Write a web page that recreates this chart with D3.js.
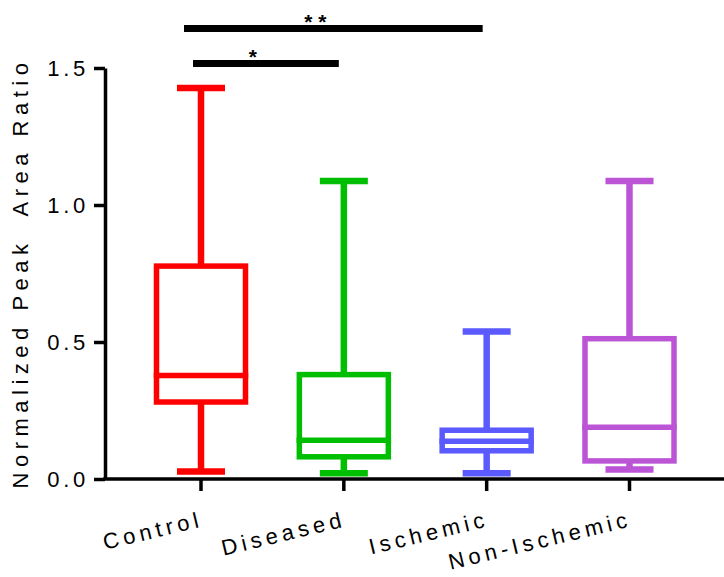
<!DOCTYPE html>
<html>
<head>
<meta charset="utf-8">
<script src="https://cdn.jsdelivr.net/npm/d3@7"></script>
<style>
  html, body { margin: 0; padding: 0; background: #fff; }
  svg { display: block; font-family: "Liberation Sans", Arial, sans-serif; }
</style>
</head>
<body>
<svg id="chart" width="724" height="577"></svg>
<script>
// Groups and their box-plot summaries (min, Q1, median, Q3, max)
const categories = ["Control", "Diseased", "Ischemic", "Non-Ischemic"];
const colors     = ["#ff0000", "#00be00", "#5a5aff", "#bb55d6"];
const mins       = [0.027, 0.021, 0.021, 0.035];
const q1s        = [0.281, 0.081, 0.103, 0.066];
const medians    = [0.378, 0.141, 0.138, 0.189];
const q3s        = [0.777, 0.381, 0.178, 0.512];
const maxs       = [1.427, 1.088, 0.538, 1.088];

const yTicks     = [0, 0.5, 1.0, 1.5];
const yTitle     = "Normalized Peak  Area Ratio";

// Significance brackets between groups
const bracketFrom   = [0, 0];
const bracketTo     = [2, 1];
const bracketLevel  = [1.644, 1.516];
const bracketLabel  = ["* *", "*"];

const svg = d3.select("#chart");

const y = d3.scaleLinear().domain([0, 1.5]).range([479, 68]);
const x = d3.scalePoint().domain(categories).range([201, 629.5]);

const axisX0 = 105, axisRight = 724, baseY = y(0);
const boxW = 89, capW = 48, sw = 5.5;

// Y axis
const gy = svg.append("g").attr("transform", `translate(${axisX0},0)`)
  .call(d3.axisLeft(y).tickValues(yTicks).tickFormat(d3.format(".1f")).tickSize(11).tickSizeOuter(0).tickPadding(5));
gy.select(".domain").attr("stroke", "#000").attr("stroke-width", 3.5);
gy.selectAll(".tick line").attr("stroke", "#000").attr("stroke-width", 3.5);
gy.selectAll(".tick text").attr("font-size", 22).attr("fill", "#000")
  .attr("letter-spacing", 3.7).attr("font-family", "Liberation Sans, Arial, sans-serif");

// X axis
svg.append("line").attr("x1", axisX0 - 1.75).attr("x2", axisRight)
  .attr("y1", baseY).attr("y2", baseY).attr("stroke", "#000").attr("stroke-width", 3.5);
svg.selectAll(".xtick").data(categories).enter().append("line")
  .attr("x1", d => x(d)).attr("x2", d => x(d))
  .attr("y1", baseY).attr("y2", baseY + 12)
  .attr("stroke", "#000").attr("stroke-width", 3.5);
svg.selectAll(".xlabel").data(categories).enter().append("text")
  .attr("transform", d => `translate(${x(d) + 3},${baseY + 47}) rotate(-13.5)`)
  .attr("text-anchor", "end")
  .attr("font-size", 22)
  .attr("letter-spacing", 4.4)
  .attr("fill", "#000")
  .text(d => d);

// Y axis title
svg.append("text")
  .attr("transform", `translate(28,273) rotate(-90)`)
  .attr("text-anchor", "middle")
  .attr("font-size", 22)
  .attr("letter-spacing", 5.5)
  .attr("xml:space", "preserve")
  .style("white-space", "pre")
  .attr("fill", "#000")
  .text(yTitle);

// Box plots
categories.forEach((c, i) => {
  const cx = x(c), col = colors[i];
  const g = svg.append("g").attr("stroke", col).attr("stroke-width", sw).attr("fill", "none");
  // whiskers
  g.append("line").attr("x1", cx).attr("x2", cx).attr("y1", y(maxs[i])).attr("y2", y(q3s[i])).attr("stroke-width", 6.5);
  g.append("line").attr("x1", cx).attr("x2", cx).attr("y1", y(q1s[i])).attr("y2", y(mins[i])).attr("stroke-width", 6.5);
  // caps
  g.append("line").attr("x1", cx - capW / 2).attr("x2", cx + capW / 2).attr("y1", y(maxs[i])).attr("y2", y(maxs[i])).attr("stroke-width", 6.5);
  g.append("line").attr("x1", cx - capW / 2).attr("x2", cx + capW / 2).attr("y1", y(mins[i])).attr("y2", y(mins[i])).attr("stroke-width", 6.5);
  // box
  g.append("rect").attr("x", cx - boxW / 2).attr("y", y(q3s[i]))
    .attr("width", boxW).attr("height", y(q1s[i]) - y(q3s[i]))
    .attr("fill", "#fff");
  // median
  g.append("line").attr("x1", cx - boxW / 2 - sw / 2).attr("x2", cx + boxW / 2 + sw / 2)
    .attr("y1", y(medians[i])).attr("y2", y(medians[i]));
});

// Significance brackets
bracketFrom.forEach((f, i) => {
  const x1 = x(categories[f]) - (i === 0 ? 17 : 8);
  const x2 = x(categories[bracketTo[i]]) - (i === 0 ? 4 : 5);
  const yy = y(bracketLevel[i]);
  svg.append("line").attr("x1", x1).attr("x2", x2).attr("y1", yy).attr("y2", yy)
    .attr("stroke", "#000").attr("stroke-width", 7);
  svg.append("text")
    .attr("x", x1 + (x2 - x1) * (i === 0 ? 0.44 : 0.41))
    .attr("y", yy)
    .attr("text-anchor", "middle")
    .attr("font-size", 21).attr("font-weight", "bold")
    .attr("xml:space", "preserve").style("white-space", "pre")
    .attr("fill", "#000")
    .text(bracketLabel[i]);
});
</script>
</body>
</html>
